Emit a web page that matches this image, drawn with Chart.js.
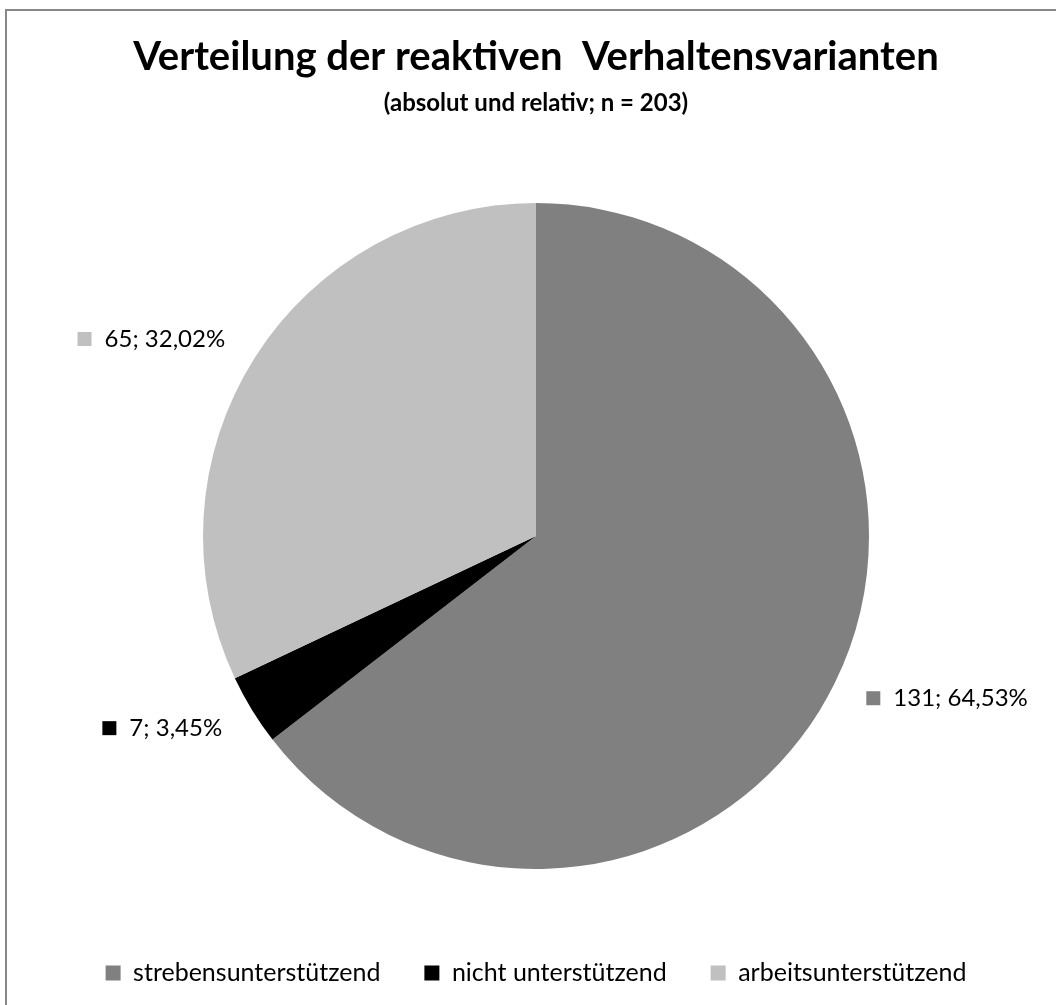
<!DOCTYPE html>
<html>
<head>
<meta charset="utf-8">
<script src="https://cdn.jsdelivr.net/npm/chart.js@4.4.1/dist/chart.umd.min.js"></script>
<style>
  html, body { margin: 0; padding: 0; background: #fff; }
  #wrap { position: relative; width: 1056px; height: 1005px; }
</style>
</head>
<body>
<div id="wrap"><canvas id="myChart" width="1056" height="1005"></canvas></div>
<script>
// data
const categories = ['strebensunterstützend', 'nicht unterstützend', 'arbeitsunterstützend'];
const counts = [131, 7, 65];
const percentLabels = ['64,53%', '3,45%', '32,02%'];
const sliceColors = ['#808080', '#000000', '#c0c0c0'];

const FONT = 'Lato, "Open Sans", sans-serif';

// outer frame, like the exported chart area
const framePlugin = {
    id: 'frame',
    beforeDraw(chart) {
        const c = chart.ctx;
        c.save();
        c.strokeStyle = '#888888';
        c.lineWidth = 2;
        c.beginPath();
        c.moveTo(6, 1010);
        c.lineTo(6, 10);
        c.lineTo(1060, 10);
        c.stroke();
        c.restore();
    }
};

// "value; percent" labels with a small colour square, placed outside each slice
const sliceLabels = {
    id: 'sliceLabels',
    afterDatasetsDraw(chart) {
        const c = chart.ctx;
        const meta = chart.getDatasetMeta(0);
        c.save();
        c.font = '24px ' + FONT;
        c.textBaseline = 'middle';
        meta.data.forEach((arc, i) => {
            const p = arc.getProps(['x', 'y', 'startAngle', 'endAngle', 'outerRadius'], true);
            const mid = (p.startAngle + p.endAngle) / 2;
            const r = p.outerRadius + 35;
            const ax = p.x + Math.cos(mid) * r;
            const ay = p.y + Math.sin(mid) * r;
            const text = counts[i] + '; ' + percentLabels[i];
            const tw = c.measureText(text).width;
            const box = 14, gap = 13;
            let boxX;
            if (Math.cos(mid) >= 0) {
                boxX = ax;
            } else {
                boxX = ax - tw - gap - box;
            }
            c.fillStyle = sliceColors[i];
            c.fillRect(boxX, ay - box / 2, box, box);
            c.fillStyle = '#000';
            c.textAlign = 'left';
            c.fillText(text, boxX + box + gap, ay);
        });
        c.restore();
    }
};

new Chart(document.getElementById('myChart').getContext('2d'), {
    type: 'pie',
    data: {
        labels: categories,
        datasets: [{
            data: counts,
            backgroundColor: sliceColors,
            borderWidth: 0
        }]
    },
    options: {
        responsive: false,
        animation: false,
        radius: 333,
        layout: {
            padding: { left: 16, right: 0, top: 0, bottom: 9.5 }
        },
        plugins: {
            title: {
                display: true,
                text: 'Verteilung der reaktiven  Verhaltensvarianten',
                color: '#000',
                font: { family: FONT, size: 40, weight: 'bold' },
                padding: { top: 33, bottom: 7.6 }
            },
            subtitle: {
                display: true,
                text: '(absolut und relativ; n = 203)',
                color: '#000',
                font: { family: FONT, size: 24, weight: 'bold' },
                padding: { top: 0, bottom: 38.1 }
            },
            legend: {
                position: 'bottom',
                onClick: null,
                labels: {
                    color: '#000',
                    font: { family: FONT, size: 25 },
                    boxWidth: 15,
                    boxHeight: 15,
                    padding: 44
                }
            },
            tooltip: { enabled: false }
        }
    },
    plugins: [framePlugin, sliceLabels]
});
</script>
</body>
</html>
